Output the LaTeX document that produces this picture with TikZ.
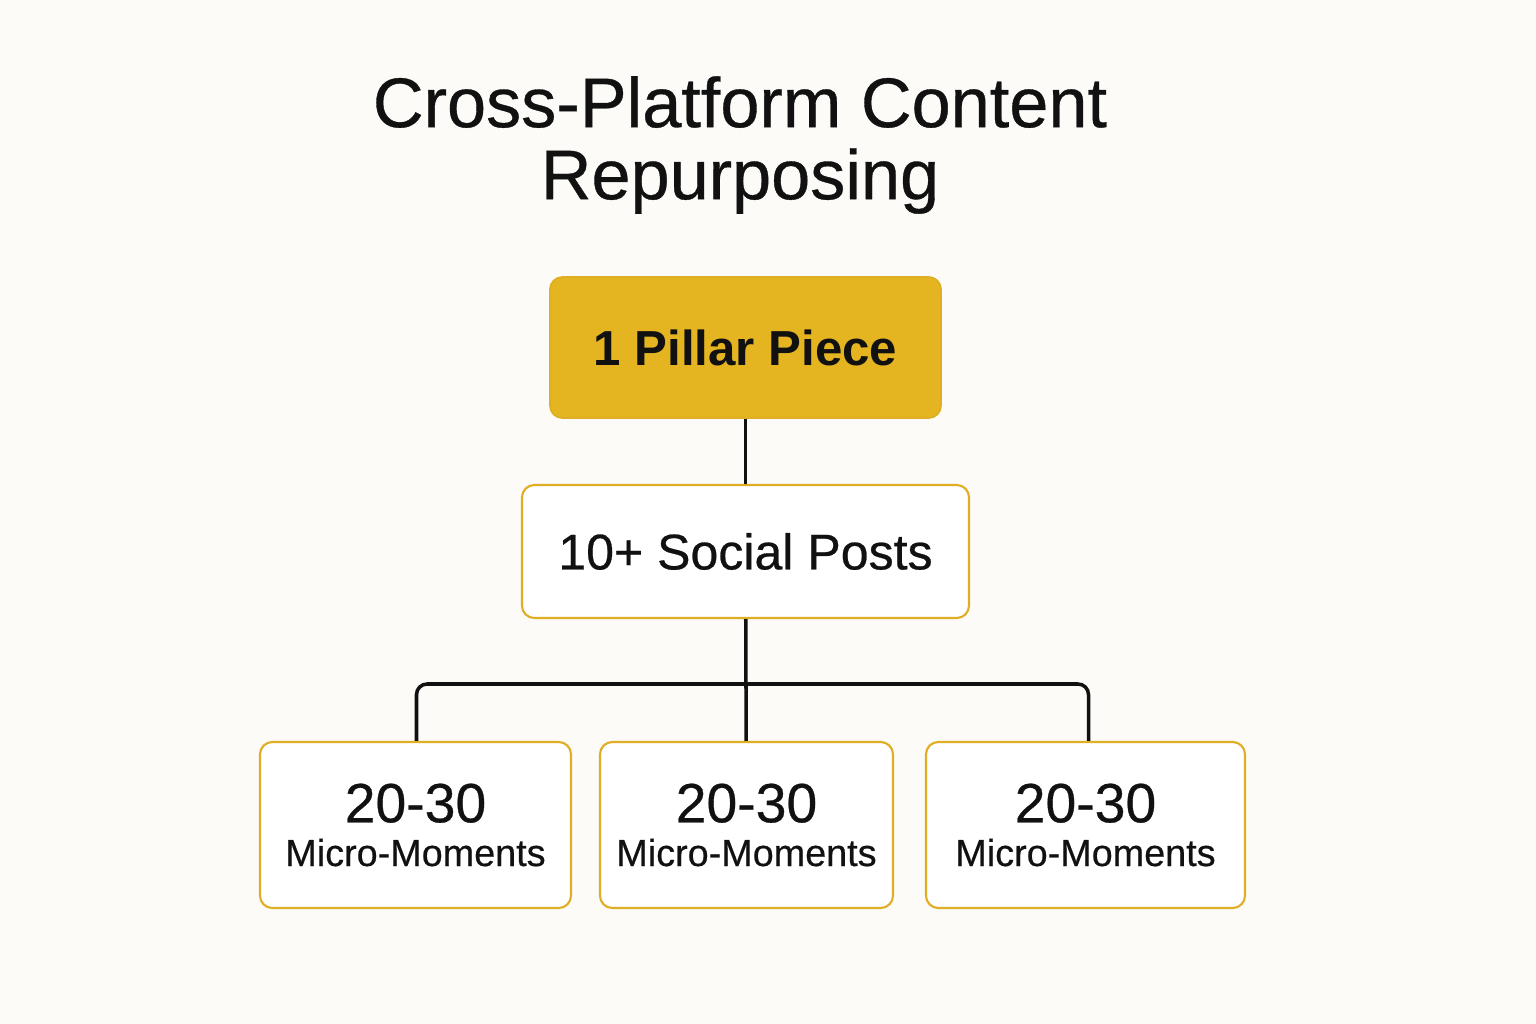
\documentclass[tikz,border=0pt]{standalone}
\usepackage{fontspec}
\setmainfont{Liberation Sans}
\newfontfamily\medfont{Liberation Sans}[FakeBold=0.5]
\usetikzlibrary{positioning, calc}
\definecolor{paper}{HTML}{FCFBF8}
\definecolor{gold}{HTML}{E4B421}
\definecolor{goldline}{HTML}{E0AE25}
\definecolor{ink}{HTML}{111111}

\begin{document}
\begin{tikzpicture}[x=0.02cm, y=-0.02cm,
    pillar/.style={draw=goldline, fill=gold, line width=1pt, rounded corners=7pt,
        minimum width=391*0.02cm, minimum height=141*0.02cm, text=ink,
        font=\fontsize{28}{34}\selectfont\bfseries},
    social/.style={draw=goldline, fill=white, line width=1.2pt, rounded corners=7pt,
        minimum width=447*0.02cm, minimum height=133*0.02cm, text=ink,
        font=\medfont\fontsize{28.5}{34}\selectfont},
    moment/.style={draw=goldline, fill=white, line width=1.2pt, rounded corners=7pt,
        minimum height=166*0.02cm, text=ink, align=center, inner sep=0pt, font=\medfont},
    link/.style={draw=ink, line width=2pt}]
        % Background
        \fill[paper] (0,0) rectangle (1536,1024);

        % Title
        \node[text=ink, align=center, font=\medfont\fontsize{40}{41}\selectfont] (title) at (740,145)
            {Cross-Platform Content\\Repurposing};

        % Boxes
        \node[pillar] (pillar) at (745.5,347.5) {1 Pillar Piece};
        \node[social] (posts) at (745.5,551.5) {10+ Social Posts};
        \node[moment, minimum width=311*0.02cm] (left) at (415.5,825)
            {{\fontsize{31.5}{36}\selectfont 20-30}\\[8pt]{\fontsize{21.5}{26}\selectfont Micro-Moments}};
        \node[moment, minimum width=293*0.02cm] (mid) at (746.5,825)
            {{\fontsize{31.5}{36}\selectfont 20-30}\\[8pt]{\fontsize{21.5}{26}\selectfont Micro-Moments}};
        \node[moment, minimum width=319*0.02cm] (right) at (1085.5,825)
            {{\fontsize{31.5}{36}\selectfont 20-30}\\[8pt]{\fontsize{21.5}{26}\selectfont Micro-Moments}};

        % Connectors
        \coordinate (bar) at (746,684);
        \draw[link] (pillar) -- (posts);
        \draw[link] (posts) -- (mid);
        \draw[link, rounded corners=6pt] ($(left.north)+(1,0)$) |- (bar) -| ($(right.north)+(3,0)$);
\end{tikzpicture}
\end{document}
